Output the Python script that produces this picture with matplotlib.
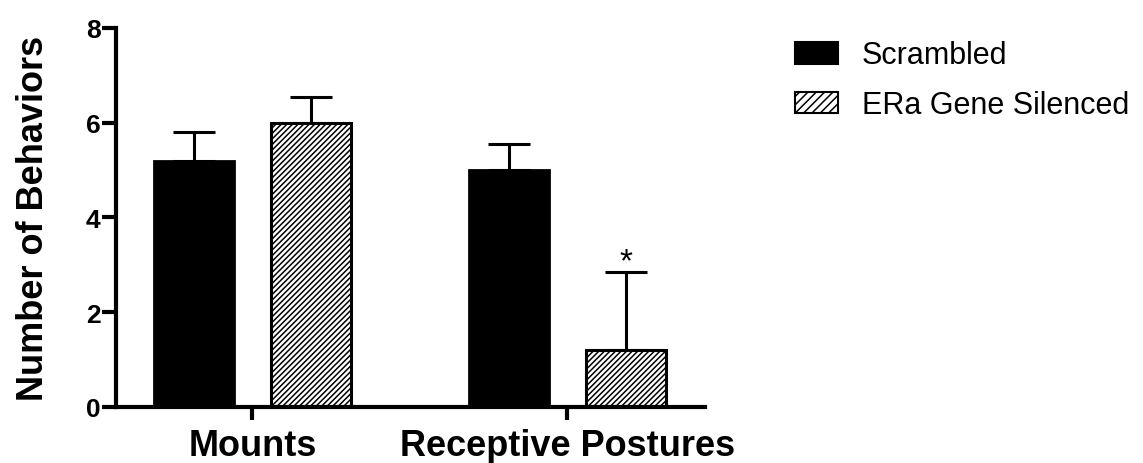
import matplotlib
matplotlib.use("Agg")
import matplotlib.pyplot as plt
import matplotlib.patches as mpatches
import numpy as np

plt.rcParams['font.family'] = ['Liberation Sans', 'DejaVu Sans']
plt.rcParams['hatch.linewidth'] = 1.1

categories = ["Mounts", "Receptive Postures"]
groups = ["Scrambled", "ERa Gene Silenced"]
scrambled = [5.2, 5.0]
scrambled_err = [0.6, 0.55]
silenced = [6.0, 1.2]
silenced_err = [0.55, 1.65]

fig = plt.figure(figsize=(11.43, 4.64), dpi=100)
ax = fig.add_axes([0.1015, 0.1207, 0.5155, 0.8168])

x = np.arange(len(categories))
off = 0.186
w = 0.254

ax.bar(x - off, scrambled, w, color='black', edgecolor='black', linewidth=2, zorder=2)
ax.bar(x + off, silenced, w, color='white', edgecolor='black', hatch='//////', linewidth=2.2, zorder=2)

# upper error bars only
ax.errorbar(x - off, scrambled, yerr=[np.zeros(2), scrambled_err], fmt='none',
            ecolor='black', elinewidth=2.2, capsize=15, capthick=2.2, zorder=1)
ax.errorbar(x + off, silenced, yerr=[np.zeros(2), silenced_err], fmt='none',
            ecolor='black', elinewidth=2.2, capsize=15, capthick=2.2, zorder=1)

ax.text(1 + off, 3.06, '*', ha='center', va='center', fontsize=24, color='black')

ax.set_xlim(-0.433, 1.438)
ax.set_ylim(0, 8)
ax.set_yticks([0, 2, 4, 6, 8])
ax.set_xticks(x)
ax.set_xticklabels(categories, fontsize=26, fontweight='bold')
ax.tick_params(axis='y', labelsize=19, width=3, length=10, pad=1)
ax.tick_params(axis='x', width=3, length=9, pad=6)
for lab in ax.get_yticklabels():
    lab.set_fontweight('bold')
ax.set_ylabel("Number of Behaviors", fontsize=26, fontweight='bold', labelpad=25)

for s in ['top', 'right']:
    ax.spines[s].set_visible(False)
for s in ['left', 'bottom']:
    ax.spines[s].set_linewidth(3)

h1 = mpatches.Patch(facecolor='black', edgecolor='black', linewidth=1.5)
h2 = mpatches.Patch(facecolor='white', edgecolor='black', hatch='////', linewidth=1.5)
fig.legend([h1, h2], groups, loc='upper left', bbox_to_anchor=(0.6955, 0.911),
           frameon=False, fontsize=22, handlelength=1.4, handleheight=0.72,
           handletextpad=0.78, labelspacing=0.65, borderaxespad=0, borderpad=0)

fig.savefig("out.png", dpi=100)
